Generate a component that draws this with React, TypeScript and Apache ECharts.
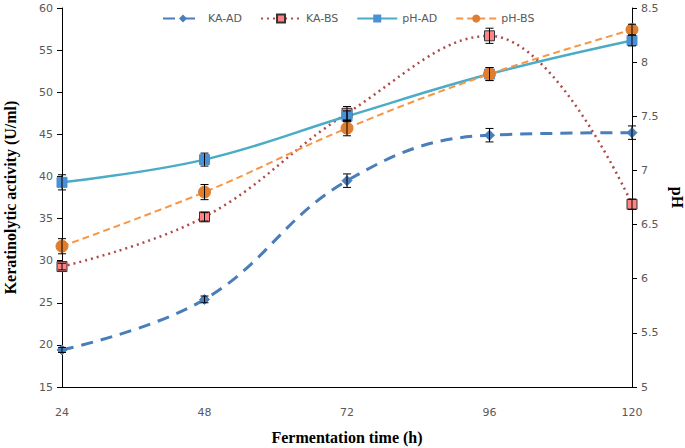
import React, { useEffect, useRef } from "react";
import * as echarts from "echarts";

const times = [24, 48, 72, 96, 120];
const kaAD = [19.4, 25.4, 39.5, 44.9, 45.2];
const kaADErr = [0.3, 0.4, 0.8, 0.8, 0.8];
const kaBS = [29.3, 35.2, 47.5, 56.7, 36.7];
const kaBSErr = [0.4, 0.5, 0.8, 0.9, 0.6];
const phAD = [6.89, 7.1, 7.5, 7.89, 8.2];
const phADErr = [0.07, 0.06, 0.05, 0.06, 0.05];
const phBS = [6.3, 6.8, 7.39, 7.89, 8.3];
const phBSErr = [0.07, 0.07, 0.07, 0.06, 0.05];

const pairs = (ys: number[]) => times.map((t, i) => [t, ys[i]]);
const errs = (ys: number[], e: number[]) => times.map((t, i) => [t, ys[i] - e[i], ys[i] + e[i]]);

const errSeries = (name: string, ys: number[], e: number[], yAxisIndex: number) => ({
  type: "custom",
  name,
  yAxisIndex,
  silent: true,
  z: 5,
  data: errs(ys, e),
  encode: { x: 0, y: [1, 2] },
  renderItem: (params: any, api: any) => {
    const x = api.value(0);
    const p1 = api.coord([x, api.value(1)]);
    const p2 = api.coord([x, api.value(2)]);
    const w = 4;
    const st = { stroke: "#000", lineWidth: 1 };
    return {
      type: "group",
      children: [
        { type: "line", shape: { x1: p1[0], y1: p1[1], x2: p2[0], y2: p2[1] }, style: st },
        { type: "line", shape: { x1: p1[0] - w, y1: p1[1], x2: p1[0] + w, y2: p1[1] }, style: st },
        { type: "line", shape: { x1: p2[0] - w, y1: p2[1], x2: p2[0] + w, y2: p2[1] }, style: st },
      ],
    };
  },
});

const tickFont = { color: "#595959", fontSize: 11, fontFamily: "DejaVu Sans" };
const titleFont = { color: "#000", fontSize: 16, fontWeight: "bold" as const, fontFamily: "Liberation Serif" };

export default function App() {
  const ref = useRef<HTMLDivElement>(null);
  useEffect(() => {
    if (!ref.current) return;
    const chart = echarts.init(ref.current, null, { renderer: "svg" });
    chart.setOption({
      animation: false,
      backgroundColor: "#fff",
      grid: { left: 62, right: 53, top: 8, bottom: 61, containLabel: false, outerBoundsMode: "none" },
      legend: {
        top: 8,
        left: 157,
        itemGap: 18,
        itemWidth: 40,
        itemHeight: 10,
        textStyle: { color: "#595959", fontSize: 11, fontFamily: "DejaVu Sans" },
        data: ["KA-AD", "KA-BS", "pH-AD", "pH-BS"],
      },
      xAxis: {
        type: "value",
        min: 24,
        max: 120,
        interval: 24,
        name: "Fermentation time (h)",
        nameLocation: "middle",
        nameGap: 42,
        nameTextStyle: titleFont,
        axisLine: { lineStyle: { color: "#000", width: 1 } },
        axisTick: { show: false },
        splitLine: { show: false },
        axisLabel: { ...tickFont, margin: 20 },
      },
      yAxis: [
        {
          type: "value",
          min: 15,
          max: 60,
          interval: 5,
          name: "Keratinolytic activity (U/ml)",
          nameLocation: "middle",
          nameGap: 44,
          nameTextStyle: titleFont,
          axisLine: { show: true, lineStyle: { color: "#000", width: 1 } },
          axisTick: { show: true, length: 5, lineStyle: { color: "#000" } },
          splitLine: { show: false },
          axisLabel: { ...tickFont, margin: 9 },
        },
        {
          type: "value",
          min: 5,
          max: 8.5,
          interval: 0.5,
          position: "right",
          name: "pH",
          nameLocation: "middle",
          nameGap: 32,
          nameRotate: -90,
          nameTextStyle: titleFont,
          axisLine: { show: true, lineStyle: { color: "#000", width: 1 } },
          axisTick: { show: true, length: 5, lineStyle: { color: "#000" } },
          splitLine: { show: false },
          axisLabel: { ...tickFont, margin: 9 },
        },
      ],
      series: [
        {
          type: "line",
          name: "KA-AD",
          yAxisIndex: 0,
          data: pairs(kaAD),
          smooth: 0.4,
          symbol: "diamond",
          symbolSize: 10,
          z: 3,
          lineStyle: { color: "#4a7ebb", width: 3, type: [12, 8] },
          itemStyle: { color: "#4a7ebb", borderColor: "#4a7ebb" },
        },
        {
          type: "line",
          name: "KA-BS",
          yAxisIndex: 0,
          data: pairs(kaBS),
          smooth: 0.4,
          symbol: "rect",
          symbolSize: 10,
          z: 3,
          lineStyle: { color: "#b04a48", width: 2.5, type: [2, 4] },
          itemStyle: { color: "#ff8585", borderColor: "#333", borderWidth: 1 },
        },
        {
          type: "line",
          name: "pH-AD",
          yAxisIndex: 1,
          data: pairs(phAD),
          smooth: 0.4,
          symbol: "rect",
          symbolSize: 10,
          z: 3,
          lineStyle: { color: "#4bacc6", width: 2.5 },
          itemStyle: { color: "#4a90d4", borderColor: "#4a90d4" },
        },
        {
          type: "line",
          name: "pH-BS",
          yAxisIndex: 1,
          data: pairs(phBS),
          smooth: 0.4,
          symbol: "circle",
          symbolSize: 12,
          z: 3,
          lineStyle: { color: "#f79646", width: 2, type: [7, 4] },
          itemStyle: { color: "#e07e30", borderColor: "#e07e30" },
        },
        errSeries("KA-AD err", kaAD, kaADErr, 0),
        errSeries("KA-BS err", kaBS, kaBSErr, 0),
        errSeries("pH-AD err", phAD, phADErr, 1),
        errSeries("pH-BS err", phBS, phBSErr, 1),
      ],
    });
    return () => chart.dispose();
  }, []);
  return <div ref={ref} style={{ width: 685, height: 448, position: "absolute", left: 0, top: 0 }} />;
}
